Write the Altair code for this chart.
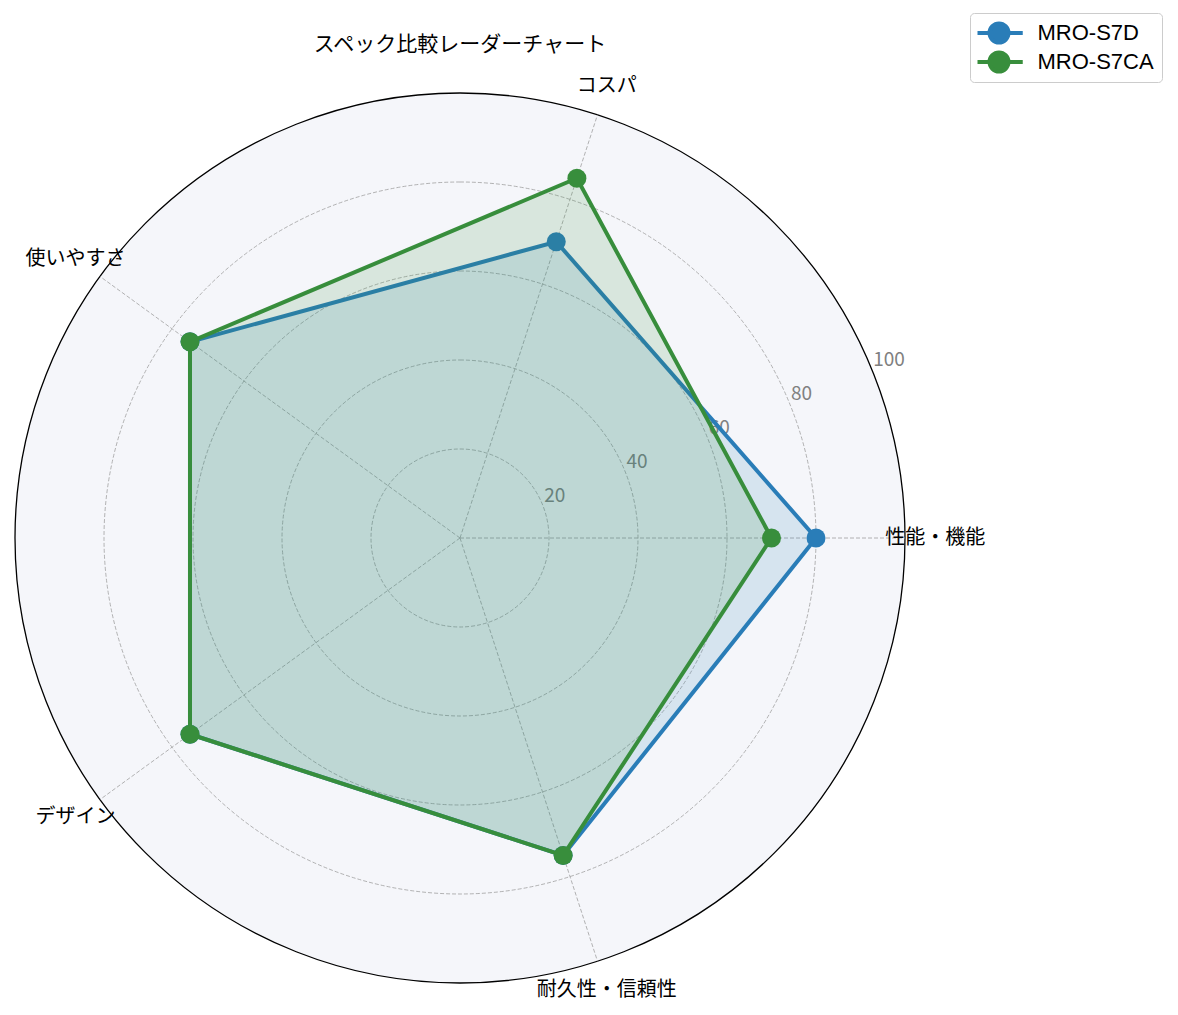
import altair as alt
import pandas as pd

categories = ["性能・機能", "コスパ", "使いやすさ", "デザイン", "耐久性・信頼性"]
series_names = ["MRO-S7D", "MRO-S7CA"]
values_s7d = [80, 70, 75, 75, 75]
values_s7ca = [70, 85, 75, 75, 75]
ring_values = [20, 40, 60, 80]
tick_values = [20, 40, 60, 80, 100]
tick_labels = ["20", "40", "60", "80", "100"]
outer_value = [100]
colors = ["#2a7db8", "#388e3c"]
title_text = "スペック比較レーダーチャート"

JP = "Noto Sans CJK JP"
N = len(categories)
R = 445
SIZE = 2 * R

# tables built from the arrays above
poly_rows = []
for name, vals in zip(series_names, [values_s7d, values_s7ca]):
    for i in range(N + 1):
        poly_rows.append({"series": name, "idx": i, "value": vals[i % N]})
poly = pd.DataFrame(poly_rows)
cats = pd.DataFrame({"idx": list(range(N)), "label": categories})
rings = pd.DataFrame({"r": ring_values})
outer = pd.DataFrame({"r": outer_value})
ticks = pd.DataFrame({"r": tick_values, "label": tick_labels})

xs = alt.Scale(domain=[-100, 100], nice=False, zero=False)
ys = alt.Scale(domain=[-100, 100], nice=False, zero=False)
rs = alt.Scale(type="linear", domain=[0, 100], range=[0, R], zero=True, nice=False)
fill_scale = alt.Scale(domain=series_names, range=colors)

ANG = f"2*PI*datum.idx/{N}"

background = alt.Chart(outer).mark_arc(
    theta=0, theta2=6.2832, fill="#f5f6fa", stroke="#000000", strokeWidth=1.3
).encode(radius=alt.Radius("r:Q", scale=rs, stack=None))

grid = alt.Chart(rings).mark_arc(
    theta=0, theta2=6.2832, fill="transparent", stroke="#a0a0a0",
    strokeWidth=0.8, strokeDash=[4, 2]
).encode(radius=alt.Radius("r:Q", scale=rs, stack=None))

spokes = alt.Chart(cats).transform_calculate(
    a=ANG, x0="0", y0="0",
    x1=f"{outer_value[0]}*cos({ANG})", y1=f"{outer_value[0]}*sin({ANG})"
).mark_rule(color="#a0a0a0", strokeWidth=0.8, strokeDash=[4, 2]).encode(
    x=alt.X("x0:Q", scale=xs, axis=None),
    y=alt.Y("y0:Q", scale=ys, axis=None),
    x2="x1:Q", y2="y1:Q",
)

tick_text = alt.Chart(ticks).transform_calculate(
    x="datum.r*cos(PI/8)", y="datum.r*sin(PI/8)"
).mark_text(
    align="left", baseline="alphabetic", dx=2, dy=-2, font=JP, fontSize=19, color="#808080"
).encode(
    x=alt.X("x:Q", scale=xs, axis=None),
    y=alt.Y("y:Q", scale=ys, axis=None),
    text="label:N",
)

cat_text = alt.Chart(cats).transform_calculate(
    x=f"106.8*cos({ANG})", y=f"106.8*sin({ANG})"
).mark_text(align="center", baseline="middle", font=JP, fontSize=20, color="#000000").encode(
    x=alt.X("x:Q", scale=xs, axis=None),
    y=alt.Y("y:Q", scale=ys, axis=None),
    text="label:N",
)

legend = alt.Legend(
    title=None, orient="none", legendX=955, legendY=-80,
    symbolType="M-2.5,0H2.5M1,0A1,1 0 1,1 -1,0A1,1 0 1,1 1,0Z",
    symbolSize=361, symbolStrokeWidth=4, symbolOffset=10, labelOffset=27,
    labelFont="Liberation Sans", labelFontSize=22, labelColor="#000000",
    fillColor="#ffffff", strokeColor="#cccccc", cornerRadius=4,
    padding=7.5, rowPadding=4, clipHeight=25,
)

layers = [background, grid, spokes, tick_text]
for k, name in enumerate(series_names):
    base = alt.Chart(poly).transform_filter(
        alt.datum.series == name
    ).transform_calculate(
        x=f"datum.value*cos({ANG})", y=f"datum.value*sin({ANG})"
    )
    fill_layer = base.mark_line(
        fill=colors[k], fillOpacity=0.15, strokeOpacity=0
    ).encode(
        x=alt.X("x:Q", scale=xs, axis=None),
        y=alt.Y("y:Q", scale=ys, axis=None),
        order=alt.Order("idx:Q"),
    )
    line_layer = base.mark_line(strokeWidth=4).encode(
        x=alt.X("x:Q", scale=xs, axis=None),
        y=alt.Y("y:Q", scale=ys, axis=None),
        order=alt.Order("idx:Q"),
        stroke=alt.Stroke("series:N", scale=fill_scale, legend=legend),
    )
    point_layer = base.transform_filter(alt.datum.idx < N).mark_point(
        filled=True, size=361, strokeWidth=0, opacity=1, shape="circle"
    ).encode(
        x=alt.X("x:Q", scale=xs, axis=None),
        y=alt.Y("y:Q", scale=ys, axis=None),
        fill=alt.Fill("series:N", scale=fill_scale, legend=legend),
        stroke=alt.Stroke("series:N", scale=fill_scale, legend=legend),
    )
    layers += [line_layer, fill_layer, point_layer]

layers.append(cat_text)

chart = alt.layer(*layers).properties(
    width=SIZE, height=SIZE,
    title=alt.TitleParams(title_text, font=JP, fontSize=21, fontWeight="normal",
                          color="#000000", anchor="middle", offset=-42),
    autosize=alt.AutoSizeParams(type="none"),
    padding={"left": 7, "top": 85, "right": 265, "bottom": 25},
).configure_view(stroke=None)

chart.save("out.html", embed_options={"renderer": "svg", "actions": False})
